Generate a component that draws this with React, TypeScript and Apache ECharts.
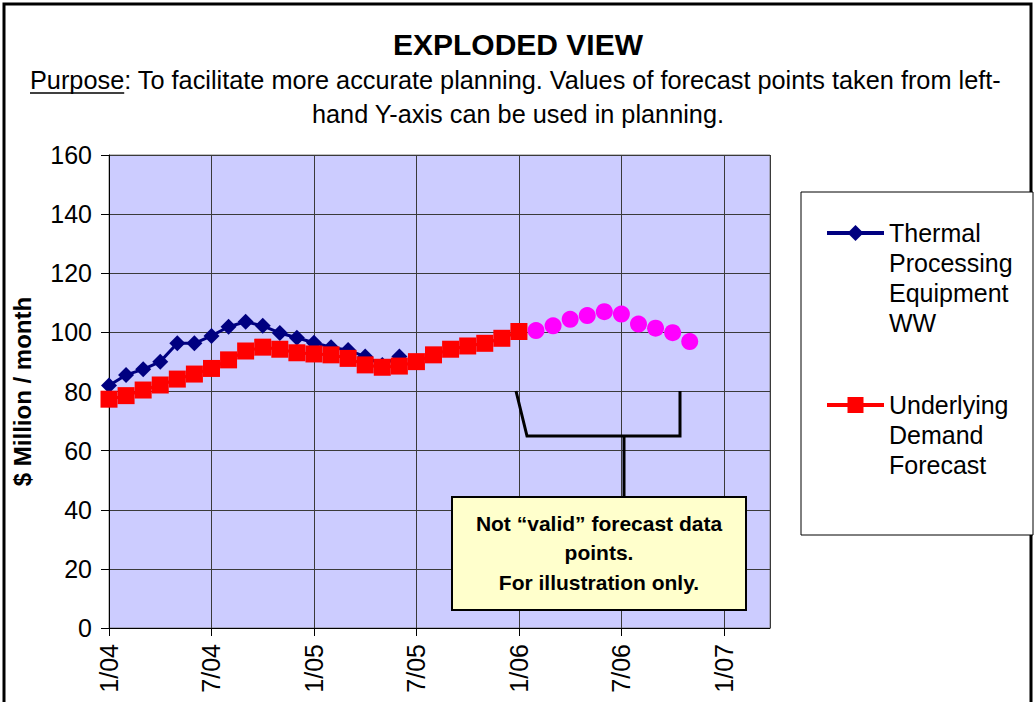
import React, { useEffect, useRef } from "react";
import * as echarts from "echarts";

const FONT = "'Liberation Sans', Arial, Helvetica, sans-serif";

// x axis: months counted from 1/04
const xTickLabels = ["1/04", "7/04", "1/05", "7/05", "1/06", "7/06", "1/07"];
const yTickValues = [0, 20, 40, 60, 80, 100, 120, 140, 160];

const thermalName = "Thermal Processing Equipment WW";
const demandName = "Underlying Demand Forecast";
const forecastName = "Illustrative forecast points";

// monthly values, 1/04 .. 6/05
const thermalStart = 0;
const thermalValues = [
  82.0, 85.6, 87.5, 90.1, 96.3, 96.3, 98.8, 101.9, 103.6, 102.2, 99.8, 98.2,
  96.5, 95.0, 94.0, 91.8, 89.0, 91.8,
];

// monthly values, 1/04 .. 1/06
const demandStart = 0;
const demandValues = [
  77.4, 78.6, 80.5, 82.2, 84.2, 85.9, 87.8, 90.7, 93.7, 95.0, 94.3, 93.1,
  92.7, 92.4, 91.2, 89.0, 88.2, 88.6, 90.1, 92.4, 94.3, 95.4, 96.3, 98.0,
  100.3,
];

// monthly values, 2/06 .. 11/06
const forecastStart = 25;
const forecastValues = [100.6, 102.2, 104.4, 105.7, 107.0, 106.2, 102.8, 101.4, 99.9, 96.9];

const noteLines = ["Not \u201cvalid\u201d forecast data", "points.", "For illustration only."];
const titleText = "EXPLODED VIEW";
const purposeLine1 = "Purpose: To facilitate more accurate planning. Values of forecast points taken from left-";
const purposeLine2 = "hand Y-axis can be used in planning.";

export default function App() {
  const ref = useRef<HTMLDivElement>(null);

  useEffect(() => {
    document.body.style.margin = "0";
    const chart = echarts.init(ref.current!, null, { renderer: "svg" });

    const toPoints = (start: number, vals: number[]) => vals.map((v, i) => [start + i, v]);

    // legend text: words on separate lines, first line level with the icon
    const legendLabel = (n: string) => {
      const words = n.split(" ");
      return "\n".repeat(words.length - 1) + words.join("\n");
    };

    const option: any = {
      animation: false,
      backgroundColor: "#ffffff",
      title: {
        text: titleText,
        left: "center",
        top: 29,
        padding: 0,
        textStyle: { fontFamily: FONT, fontSize: 30, fontWeight: "bold", color: "#000" },
      },
      grid: {
        left: 109,
        top: 155,
        width: 661,
        height: 473,
        show: true,
        backgroundColor: "#CCCCFF",
        borderColor: "#808080",
        borderWidth: 1,
        containLabel: false,
      },
      legend: {
        orient: "vertical",
        left: 825,
        top: 128,
        padding: 0,
        itemGap: -8,
        itemWidth: 57,
        itemHeight: 20,
        selectedMode: false,
        formatter: legendLabel,
        lineStyle: { width: 4 },
        textStyle: { fontFamily: FONT, fontSize: 25, lineHeight: 30, color: "#000" },
        data: [thermalName, demandName],
        z: 10,
      },
      xAxis: {
        type: "value",
        min: 0,
        max: 38.7,
        interval: 6,
        axisLine: { show: true, lineStyle: { color: "#000", width: 1 } },
        axisTick: { show: true, length: 8, lineStyle: { color: "#000" } },
        splitLine: { show: true, lineStyle: { color: "#3a3a3a", width: 1 } },
        axisLabel: {
          rotate: 90,
          margin: 16,
          fontFamily: FONT,
          fontSize: 25,
          color: "#000",
          showMaxLabel: false,
          formatter: (v: number) => (v % 6 === 0 ? xTickLabels[v / 6] ?? "" : ""),
        },
      },
      yAxis: {
        type: "value",
        min: 0,
        max: 160,
        interval: 20,
        name: "$ Million / month",
        nameLocation: "middle",
        nameGap: 75,
        nameRotate: 90,
        nameTextStyle: { fontFamily: FONT, fontSize: 24, fontWeight: "bold", color: "#000" },
        axisLine: { show: true, lineStyle: { color: "#000", width: 1 } },
        axisTick: { show: true, length: 8, lineStyle: { color: "#000" } },
        splitLine: { show: true, lineStyle: { color: "#3a3a3a", width: 1 } },
        axisLabel: {
          margin: 17,
          fontFamily: FONT,
          fontSize: 25,
          color: "#000",
          formatter: (v: number) => (yTickValues.includes(v) ? String(v) : ""),
        },
      },
      series: [
        {
          name: thermalName,
          type: "line",
          data: toPoints(thermalStart, thermalValues),
          symbol: "diamond",
          symbolSize: 16,
          itemStyle: { color: "#000080" },
          lineStyle: { color: "#000080", width: 3 },
          z: 3,
        },
        {
          name: demandName,
          type: "line",
          data: toPoints(demandStart, demandValues),
          symbol: "rect",
          symbolSize: 17,
          itemStyle: { color: "#FF0000" },
          lineStyle: { color: "#FF0000", width: 3 },
          z: 4,
        },
        {
          name: forecastName,
          type: "scatter",
          data: toPoints(forecastStart, forecastValues),
          symbol: "circle",
          symbolSize: 17,
          itemStyle: { color: "#FF00FF", opacity: 1 },
          z: 5,
        },
      ],
      graphic: [
        {
          type: "rect",
          silent: true,
          z: 0,
          shape: { x: 4, y: 4, width: 1027, height: 760 },
          style: { fill: "none", stroke: "#000", lineWidth: 3 },
        },
        {
          type: "rect",
          silent: true,
          z: 1,
          shape: { x: 801, y: 192, width: 232, height: 343 },
          style: { fill: "#fff", stroke: "#000", lineWidth: 1 },
        },
        {
          type: "text",
          silent: true,
          z: 5,
          style: {
            text: purposeLine1,
            x: 30,
            y: 80,
            textAlign: "left",
            textVerticalAlign: "middle",
            fontFamily: FONT,
            fontSize: 25.3,
            fill: "#000",
          },
        },
        {
          type: "line",
          silent: true,
          z: 5,
          shape: { x1: 30, y1: 93, x2: 30 + 3.724 * 25.3, y2: 93 },
          style: { stroke: "#000", lineWidth: 1.5 },
        },
        {
          type: "text",
          silent: true,
          z: 5,
          style: {
            text: purposeLine2,
            x: 518,
            y: 114,
            textAlign: "center",
            textVerticalAlign: "middle",
            fontFamily: FONT,
            fontSize: 25.3,
            fill: "#000",
          },
        },
        {
          type: "polyline",
          silent: true,
          z: 50,
          shape: { points: [[516, 391], [527, 436], [680, 436], [680, 391]] },
          style: { fill: "none", stroke: "#000", lineWidth: 3 },
        },
        {
          type: "line",
          silent: true,
          z: 50,
          shape: { x1: 624, y1: 436, x2: 624, y2: 497 },
          style: { stroke: "#000", lineWidth: 3 },
        },
        {
          type: "rect",
          silent: true,
          z: 50,
          shape: { x: 452, y: 497, width: 294, height: 113 },
          style: { fill: "#FFFFCC", stroke: "#000", lineWidth: 2 },
        },
        ...noteLines.map((t, i) => ({
          type: "text",
          silent: true,
          z: 51,
          style: {
            text: t,
            x: 599,
            y: 523 + i * 29.5,
            textAlign: "center",
            textVerticalAlign: "middle",
            fontFamily: FONT,
            fontSize: 21,
            fontWeight: "bold",
            fill: "#000",
          },
        })),
      ],
    };

    chart.setOption(option);
    return () => chart.dispose();
  }, []);

  return <div ref={ref} style={{ width: 1036, height: 702 }} />;
}
